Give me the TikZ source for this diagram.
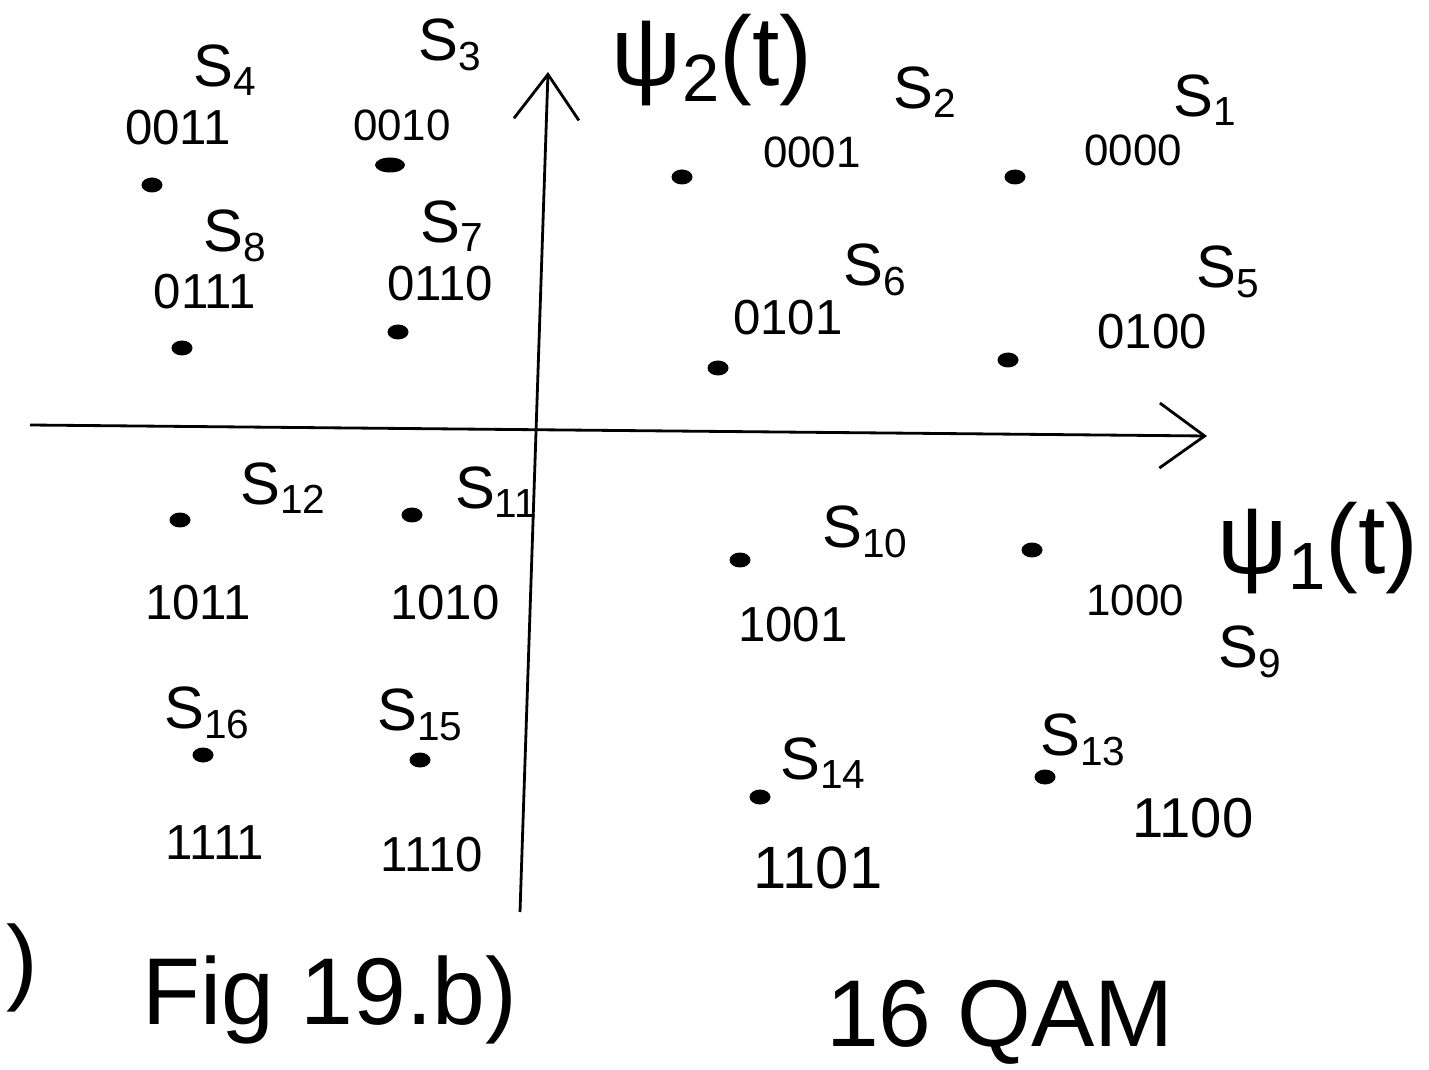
\documentclass[tikz,border=0pt]{standalone}
\usepackage{fontspec}
\setmainfont{Liberation Sans}
\usetikzlibrary{arrows.meta,shapes.geometric}
\newcommand\subx[1]{\raisebox{-0.3ex}{\scalebox{0.68}{#1}}}
\begin{document}
\begin{tikzpicture}[x=0.02cm,y=-0.02cm,
  pt/.style={ellipse,fill=black,inner sep=0pt,minimum width=0.42cm,minimum height=0.3cm},
  sname/.style={inner sep=0pt,font=\fontsize{34}{36}\selectfont},
  bits/.style={inner sep=0pt,font=\fontsize{28}{30}\selectfont},
  sbits/.style={inner sep=0pt,font=\fontsize{25}{27}\selectfont},
  axislbl/.style={inner sep=0pt,font=\fontsize{56}{60}\selectfont},
  axis/.style={line width=1.6pt,-{Straight Barb[length=0.9cm,width=1.3cm,line width=1.6pt]}},
  captext/.style={inner sep=0pt,font=\fontsize{54}{58}\selectfont}]
\useasboundingbox[fill=white] (0,0) rectangle (1429,1070);
% axes
\coordinate (yb) at (520,912);
\coordinate (yt) at (548,72);
\coordinate (xl) at (30,425);
\coordinate (xr) at (1207,436);
\draw[axis] (xl) -- (xr);
\draw[axis] (yb) -- (yt);
\node[axislbl] (psi2) at (712,60) {ψ\subx{2}(t)};
\node[axislbl] (psi1) at (1318,548) {ψ\subx{1}(t)};
% quadrant 2
\node[sname] (n4) at (225,70) {S\subx{4}};
\node[bits] (b4) at (178,128) {0011};
\node[pt] (s4) at (152,185) {};
\node[sname] (n3) at (450,45) {S\subx{3}};
\node[sbits] (b3) at (402,125) {0010};
\node[pt,minimum width=0.6cm] (s3) at (390,165) {};
\node[sname] (n8) at (235,236) {S\subx{8}};
\node[bits] (b8) at (205,292) {0111};
\node[pt] (s8) at (182,348) {};
\node[sname] (n7) at (452,226) {S\subx{7}};
\node[bits] (b7) at (440,284) {0110};
\node[pt] (s7) at (398,332) {};
% quadrant 1
\node[sname] (n2) at (925,92) {S\subx{2}};
\node[sbits] (b2) at (812,152) {0001};
\node[pt] (s2) at (682,177) {};
\node[sname] (n1) at (1205,100) {S\subx{1}};
\node[sbits] (b1) at (1133,150) {0000};
\node[pt] (s1) at (1015,177) {};
\node[sname] (n6) at (875,270) {S\subx{6}};
\node[bits] (b6) at (788,318) {0101};
\node[pt] (s6) at (718,368) {};
\node[sname] (n5) at (1228,272) {S\subx{5}};
\node[bits] (b5) at (1152,332) {0100};
\node[pt] (s5) at (1008,360) {};
% quadrant 3
\node[sname] (n12) at (283,488) {S\subx{12}};
\node[pt] (s12) at (180,520) {};
\node[bits] (b12) at (198,603) {1011};
\node[sname] (n11) at (496,492) {S\subx{11}};
\node[pt] (s11) at (412,515) {};
\node[bits] (b11) at (445,603) {1010};
\node[sname] (n16) at (207,713) {S\subx{16}};
\node[pt] (s16) at (203,755) {};
\node[bits] (b16) at (215,843) {1111};
\node[sname] (n15) at (420,715) {S\subx{15}};
\node[pt] (s15) at (420,760) {};
\node[bits] (b15) at (432,855) {1110};
% quadrant 4
\node[sname] (n10) at (865,532) {S\subx{10}};
\node[pt] (s10) at (740,560) {};
\node[bits] (b10) at (793,625) {1001};
\node[sname] (n9) at (1250,652) {S\subx{9}};
\node[pt] (s9) at (1032,550) {};
\node[sbits] (b9) at (1135,600) {1000};
\node[sname] (n14) at (823,763) {S\subx{14}};
\node[pt] (s14) at (760,797) {};
\node[bits,font=\fontsize{34}{36}\selectfont] (b14) at (818,868) {1101};
\node[sname] (n13) at (1083,740) {S\subx{13}};
\node[pt] (s13) at (1045,777) {};
\node[bits,font=\fontsize{32}{34}\selectfont] (b13) at (1193,818) {1100};
% captions
\node[captext] (lft) at (22,968) {)};
\node[captext] (fig) at (330,1000) {Fig 19.b)};
\node[captext] (qam) at (1000,1022) {16 QAM};
\end{tikzpicture}
\end{document}
